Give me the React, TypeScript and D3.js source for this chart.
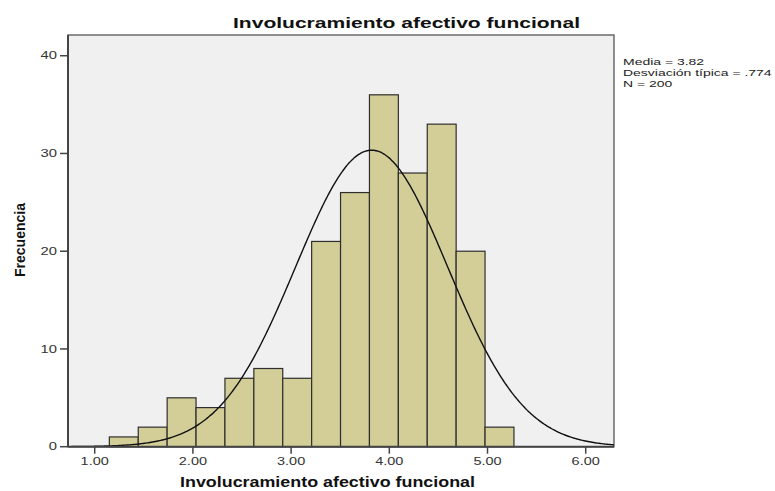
import React from "react";
import * as d3 from "d3";

// ---- data ----
const binCounts = [1, 2, 5, 4, 7, 8, 7, 21, 26, 36, 28, 33, 20, 2];
const binStart = 1.149;
const binWidth = 0.2943;
const xTicks = [1, 2, 3, 4, 5, 6];
const xTickLabels = ["1.00", "2.00", "3.00", "4.00", "5.00", "6.00"];
const yTicks = [0, 10, 20, 30, 40];
const statsLines = ["Media = 3.82", "Desviación típica = .774", "N = 200"];
const meanValue = 3.82;
const sdValue = 0.774;
const nValue = 200;
const titleText = "Involucramiento afectivo funcional";
const xLabelText = "Involucramiento afectivo funcional";
const yLabelText = "Frecuencia";

const W = 775;
const H = 491;
const plot = { left: 68, right: 614, top: 35, bottom: 446.7 };
const FONT = "'Liberation Sans', Arial, Helvetica, sans-serif";
const SX = 1.45;

function SText(props: {
  x: number;
  y: number;
  anchor?: string;
  size: number;
  sx?: number;
  weight?: string | number;
  fill?: string;
  children: React.ReactNode;
}) {
  const { x, y, anchor = "start", size, sx = SX, weight = "normal", fill = "#222" } = props;
  return (
    <text
      transform={`translate(${x},${y}) scale(${sx},1)`}
      textAnchor={anchor}
      fontSize={size}
      fontWeight={weight}
      fontFamily={FONT}
      fill={fill}
    >
      {props.children}
    </text>
  );
}

export default function App() {
  const x = d3.scaleLinear().domain([0.728, 6.288]).range([plot.left, plot.right]);
  const y = d3.scaleLinear().domain([0, 42.12]).range([plot.bottom, plot.top]);

  const bins = binCounts.map((c, i) => ({
    x0: binStart + i * binWidth,
    x1: binStart + (i + 1) * binWidth,
    count: c,
  }));

  const [d0, d1] = x.domain();
  const samples = d3.range(0, 401).map((i) => d0 + ((d1 - d0) * i) / 400);
  const pdf = (v: number) =>
    (nValue * binWidth) / (sdValue * Math.sqrt(2 * Math.PI)) *
    Math.exp(-0.5 * ((v - meanValue) / sdValue) ** 2);
  const line = d3
    .line<number>()
    .x((v) => x(v))
    .y((v) => y(pdf(v)))
    .curve(d3.curveBasis);

  return (
    <svg
      width={W}
      height={H}
      style={{ position: "absolute", left: 0, top: 0, background: "#fff" }}
    >
      {/* plot background */}
      <rect
        x={plot.left}
        y={plot.top}
        width={plot.right - plot.left}
        height={plot.bottom - plot.top}
        fill="#f0f0f0"
        stroke="#555"
        strokeWidth={1.3}
      />
      {/* bars */}
      {bins.map((b, i) => (
        <rect
          key={i}
          x={x(b.x0)}
          y={y(b.count)}
          width={x(b.x1) - x(b.x0)}
          height={y(0) - y(b.count)}
          fill="#d3ce97"
          stroke="#2e2e2e"
          strokeWidth={1.2}
        />
      ))}
      {/* normal curve */}
      <clipPath id="clipPlot">
        <rect x={plot.left} y={plot.top} width={plot.right - plot.left} height={plot.bottom - plot.top} />
      </clipPath>
      <path d={line(samples) || ""} fill="none" stroke="#111" strokeWidth={1.4} clipPath="url(#clipPlot)" />

      {/* axes */}
      <line x1={plot.left} x2={plot.left} y1={plot.top} y2={plot.bottom} stroke="#444" strokeWidth={2} />
      <line x1={plot.left} x2={plot.right} y1={plot.bottom} y2={plot.bottom} stroke="#444" strokeWidth={2} />

      {yTicks.map((t) => (
        <g key={"y" + t}>
          <line x1={plot.left - 8} x2={plot.left} y1={y(t)} y2={y(t)} stroke="#444" strokeWidth={1.5} />
          <SText x={plot.left - 11} y={y(t) + 3.6} anchor="end" size={10.2} fill="#333">
            {t}
          </SText>
        </g>
      ))}
      {xTicks.map((t, i) => (
        <g key={"x" + t}>
          <line x1={x(t)} x2={x(t)} y1={plot.bottom} y2={plot.bottom + 7} stroke="#444" strokeWidth={1.5} />
          <SText x={x(t)} y={464.5} anchor="middle" size={10} fill="#333">
            {xTickLabels[i]}
          </SText>
        </g>
      ))}

      {/* title */}
      <text
        x={233}
        y={28}
        fontSize={14.5}
        fontWeight="bold"
        fontFamily={FONT}
        fill="#111"
        textLength={347}
        lengthAdjust="spacingAndGlyphs"
      >
        {titleText}
      </text>

      {/* x label */}
      <text
        x={180}
        y={487}
        fontSize={14}
        fontWeight="bold"
        fontFamily={FONT}
        fill="#111"
        textLength={295}
        lengthAdjust="spacingAndGlyphs"
      >
        {xLabelText}
      </text>

      {/* y label */}
      <text
        transform={`translate(25,240) rotate(-90)`}
        textAnchor="middle"
        fontSize={14.5}
        fontWeight="bold"
        fontFamily={FONT}
        fill="#111"
        textLength={74}
        lengthAdjust="spacingAndGlyphs"
      >
        {yLabelText}
      </text>

      {/* stats */}
      {statsLines.map((s, i) => (
        <SText key={s} x={623} y={64.5 + i * 11} size={9.5} sx={1.47} fill="#222">
          {s}
        </SText>
      ))}
    </svg>
  );
}
